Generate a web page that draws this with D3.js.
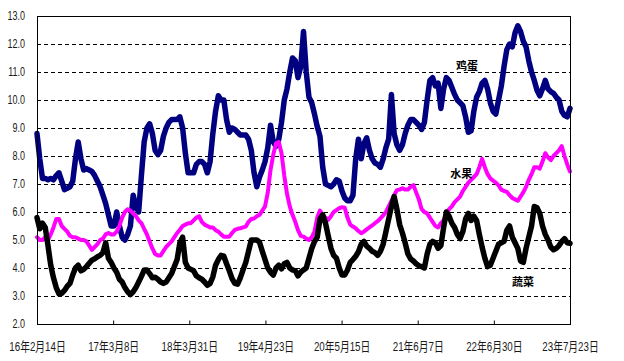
<!DOCTYPE html>
<html>
<head>
<meta charset="utf-8">
<script src="https://cdn.jsdelivr.net/npm/d3@7"></script>
<style>
  html, body { margin: 0; padding: 0; background: #fff; }
  svg { display: block; }
</style>
</head>
<body>
<svg id="chart" width="624" height="361"></svg>
<script>
// ---- Data (values sampled every 14 days starting 2016-02-14) ----
const sampleStepDays = 14;
const tickDays = [0, 388, 776, 1164, 1552, 1940, 2328, 2716];
const tickLabels = ["16年2月14日", "17年3月8日", "18年3月31日", "19年4月23日", "20年5月15日", "21年6月7日", "22年6月30日", "23年7月23日"];
const yTickValues = [2, 3, 4, 5, 6, 7, 8, 9, 10, 11, 12, 13];
const seriesNames = ["鸡蛋", "水果", "蔬菜"];

const eggs = [
  8.8, 7.9, 7.2, 7.2, 7.15, 7.2, 7.15, 7.3, 7.4, 7.1,
  6.8, 6.85, 6.9, 7.1, 7.9, 8.5, 7.9, 7.5, 7.55, 7.5,
  7.45, 7.3, 7.1, 6.9, 6.6, 6.3, 5.9, 5.5, 5.5, 6.0,
  5.5, 5.1, 5.0, 5.2, 5.5, 6.6, 6.2, 6.0, 7.3, 8.5,
  9.0, 9.15, 8.8, 8.2, 8.05, 8.2, 8.7, 9.0, 9.2, 9.3,
  9.3, 9.3, 9.4, 9.0, 8.1, 7.4, 7.4, 7.4, 7.7, 7.8,
  7.8, 7.7, 7.4, 7.8, 8.8, 9.6, 10.15, 10.0, 10.0, 9.3,
  8.85, 9.0, 8.95, 8.85, 8.75, 8.75, 8.75, 8.6, 8.2, 7.4,
  6.9, 7.25, 7.5, 7.8, 8.3, 9.1, 8.5, 8.35, 8.6, 9.2,
  10.0, 10.4, 11.0, 11.5, 11.4, 10.8, 11.2, 12.45, 11.0, 10.1,
  9.9, 9.5, 9.05, 8.7, 7.6, 7.0, 6.95, 6.9, 7.0, 7.15,
  7.1, 6.75, 6.5, 6.4, 6.4, 6.6, 7.9, 8.6, 7.9, 8.45,
  8.65, 8.2, 7.9, 7.75, 7.7, 7.6, 7.9, 8.3, 8.6, 10.2,
  8.8, 8.4, 8.2, 8.4, 8.8, 9.1, 9.3, 9.3, 9.2, 9.1,
  8.95, 9.2, 10.0, 10.7, 10.8, 10.5, 10.6, 9.7, 10.4, 10.8,
  10.7, 10.45, 10.2, 10.0, 9.9, 9.8, 9.4, 8.85, 8.9, 9.6,
  10.1, 10.3, 10.6, 10.7, 10.4, 9.9, 9.6, 9.5, 10.0, 10.5,
  11.2, 11.8, 12.0, 11.9, 12.4, 12.65, 12.45, 12.1, 11.9, 11.4,
  11.0, 10.7, 10.35, 10.15, 10.4, 10.7, 10.4, 10.3, 10.24, 10.1,
  10.0, 9.6, 9.45, 9.4, 9.7
];

const fruit = [
  5.1, 5.0, 5.0, 5.1, 5.0, 5.2, 5.45, 5.75, 5.75, 5.5,
  5.4, 5.3, 5.15, 5.1, 5.1, 5.05, 5.0, 5.0, 4.95, 4.8,
  4.65, 4.75, 4.85, 5.0, 5.05, 5.2, 5.25, 5.2, 5.2, 5.3,
  5.5, 5.8, 6.0, 6.1, 6.05, 5.95, 5.85, 5.7, 5.6, 5.4,
  5.2, 4.95, 4.7, 4.5, 4.45, 4.45, 4.6, 4.75, 4.85, 4.95,
  5.1, 5.25, 5.36, 5.5, 5.55, 5.6, 5.6, 5.7, 5.8, 5.85,
  5.65, 5.55, 5.5, 5.45, 5.45, 5.35, 5.3, 5.2, 5.12, 5.12,
  5.12, 5.25, 5.36, 5.4, 5.42, 5.45, 5.48, 5.65, 5.75, 5.77,
  5.85, 5.9, 6.05, 6.2, 6.7, 7.5, 8.05, 8.45, 8.5, 8.1,
  7.3, 6.65, 6.2, 5.9, 5.65, 5.35, 5.15, 5.12, 5.05, 5.0,
  5.1, 5.3, 5.8, 6.05, 5.9, 5.8, 5.72, 5.85, 6.0, 6.07,
  6.14, 6.17, 6.15, 5.8, 5.55, 5.48, 5.42, 5.32, 5.24, 5.3,
  5.38, 5.45, 5.52, 5.6, 5.67, 5.77, 5.88, 6.0, 6.2, 6.4,
  6.6, 6.78, 6.8, 6.85, 6.8, 6.8, 6.9, 6.96, 6.7, 6.45,
  6.1, 6.0, 5.95, 5.8, 5.65, 5.5, 5.45, 5.6, 5.7, 5.95,
  6.1, 6.2, 6.35, 6.45, 6.55, 6.75, 6.9, 7.05, 7.15, 7.25,
  7.35, 7.6, 7.9, 7.6, 7.35, 7.2, 7.12, 7.05, 6.95, 6.8,
  6.75, 6.72, 6.6, 6.5, 6.45, 6.4, 6.55, 6.7, 6.9, 7.15,
  7.35, 7.6, 7.6, 7.55, 7.8, 8.1, 7.95, 7.85, 8.0, 8.1,
  8.2, 8.35, 8.0, 7.7, 7.45
];

const veg = [
  5.8, 5.4, 5.6, 5.45, 4.8, 4.1, 3.65, 3.3, 3.08, 3.1,
  3.2, 3.35, 3.45, 3.75, 4.0, 4.1, 3.9, 3.95, 4.05, 4.17,
  4.28, 4.33, 4.4, 4.45, 4.55, 4.9, 4.35, 4.2, 4.0, 3.85,
  3.6, 3.5, 3.3, 3.15, 3.05, 3.15, 3.3, 3.5, 3.7, 3.93,
  3.93, 3.8, 3.65, 3.67, 3.6, 3.5, 3.45, 3.5, 3.65, 3.8,
  4.05, 4.3, 4.9, 5.1, 4.2, 4.0, 3.95, 3.9, 3.72, 3.65,
  3.6, 3.5, 3.38, 3.45, 3.68, 4.1, 4.3, 4.45, 4.42, 4.15,
  3.9, 3.62, 3.45, 3.42, 3.65, 3.93, 4.2, 4.6, 5.0, 5.0,
  5.0, 4.92, 4.6, 4.3, 4.0, 3.85, 3.75, 4.0, 4.1, 3.97,
  4.15, 4.2, 4.0, 3.93, 3.9, 3.72, 3.85, 3.93, 4.0, 4.35,
  4.7, 4.95, 5.1, 5.75, 5.9, 5.6, 5.15, 4.7, 4.45, 4.35,
  4.0, 3.75, 3.75, 3.93, 4.2, 4.3, 4.42, 4.58, 4.85, 4.95,
  4.78, 4.7, 4.6, 4.55, 4.45, 4.6, 4.85, 5.3, 5.75, 6.2,
  6.55, 6.1, 5.55, 5.25, 4.9, 4.5, 4.33, 4.25, 4.15, 4.08,
  4.05, 4.0, 4.5, 4.85, 4.95, 4.9, 4.7, 4.8, 5.45, 6.0,
  5.85, 5.6, 5.45, 5.2, 5.05, 5.3, 5.75, 5.95, 5.7, 5.85,
  5.7, 5.2, 4.75, 4.35, 4.05, 4.1, 4.35, 4.6, 4.85, 4.9,
  4.95, 5.35, 5.5, 5.1, 4.9, 4.7, 4.25, 4.2, 4.7, 5.1,
  5.5, 6.2, 6.15, 5.95, 5.5, 5.2, 5.0, 4.75, 4.65, 4.7,
  4.8, 4.95, 5.05, 4.9, 4.88
];

const seriesColors = ["#000080", "#ff00ff", "#000000"];

// ---- Layout ----
const svg = d3.select("#chart");
const plot = { left: 37, right: 570, top: 16, bottom: 324 };

const x = d3.scaleLinear().domain([0, tickDays[tickDays.length - 1]]).range([plot.left, plot.right]);
const y = d3.scaleLinear().domain([2, 13]).range([plot.bottom, plot.top]);

// gridlines
svg.append("g").selectAll("line")
  .data(yTickValues.filter(v => v > 2 && v < 13))
  .join("line")
  .attr("x1", plot.left).attr("x2", plot.right)
  .attr("y1", d => Math.round(y(d)) + 0.5).attr("y2", d => Math.round(y(d)) + 0.5)
  .attr("stroke", "#000").attr("stroke-width", 1)
  .attr("stroke-dasharray", "4,3");

// series
const series = [eggs, fruit, veg];
const widths = [5.5, 4, 5.5];
const line = d3.line()
  .x((d, i) => x(i * sampleStepDays))
  .y(d => y(d))
  .curve(d3.curveLinear);

series.forEach((s, k) => {
  svg.append("path")
    .datum(s)
    .attr("fill", "none")
    .attr("stroke", seriesColors[k])
    .attr("stroke-width", widths[k])
    .attr("stroke-linejoin", "round")
    .attr("stroke-linecap", "round")
    .attr("d", line);
});

// frame
svg.append("rect")
  .attr("x", plot.left + 0.5).attr("y", plot.top + 0.5)
  .attr("width", plot.right - plot.left).attr("height", plot.bottom - plot.top)
  .attr("fill", "none").attr("stroke", "#000").attr("stroke-width", 1);

// y axis
const yAxis = d3.axisLeft(y).tickValues(yTickValues).tickFormat(d3.format(".1f")).tickSize(0).tickPadding(12);
const gy = svg.append("g").attr("transform", `translate(${plot.left},0)`).call(yAxis);
gy.select(".domain").remove();
gy.selectAll("text")
  .attr("font-family", "'Liberation Sans', Arial, sans-serif")
  .attr("font-size", 12)
  .attr("fill", "#1a1a1a");

// x axis
const xAxis = d3.axisBottom(x).tickValues(tickDays)
  .tickFormat((d, i) => tickLabels[i]).tickSize(-4).tickPadding(17);
const gx = svg.append("g").attr("transform", `translate(0,${plot.bottom + 0.5})`).call(xAxis);
gx.select(".domain").remove();
gx.selectAll(".tick line").attr("stroke", "#000");
gx.selectAll("text")
  .attr("font-family", "'Liberation Sans', Arial, 'Noto Sans CJK SC', sans-serif")
  .attr("font-size", 13)
  .attr("fill", "#1a1a1a");

// condense axis text to match narrow font of the reference
svg.selectAll(".tick text").each(function () {
  const w = this.getComputedTextLength();
  d3.select(this).attr("textLength", w * 0.75).attr("lengthAdjust", "spacingAndGlyphs");
});

// series labels
const labelPos = [
  { day: 2191, v: 11.18 },
  { day: 2162, v: 7.32 },
  { day: 2477, v: 3.46 }
];
svg.append("g").selectAll("text")
  .data(seriesNames)
  .join("text")
  .attr("x", (d, i) => x(labelPos[i].day))
  .attr("y", (d, i) => y(labelPos[i].v))
  .attr("text-anchor", "middle")
  .attr("dominant-baseline", "middle")
  .attr("font-family", "'Noto Sans CJK SC', sans-serif")
  .attr("font-size", 11)
  .attr("font-weight", 600)
  .attr("fill", "#000")
  .text(d => d);
</script>
</body>
</html>
